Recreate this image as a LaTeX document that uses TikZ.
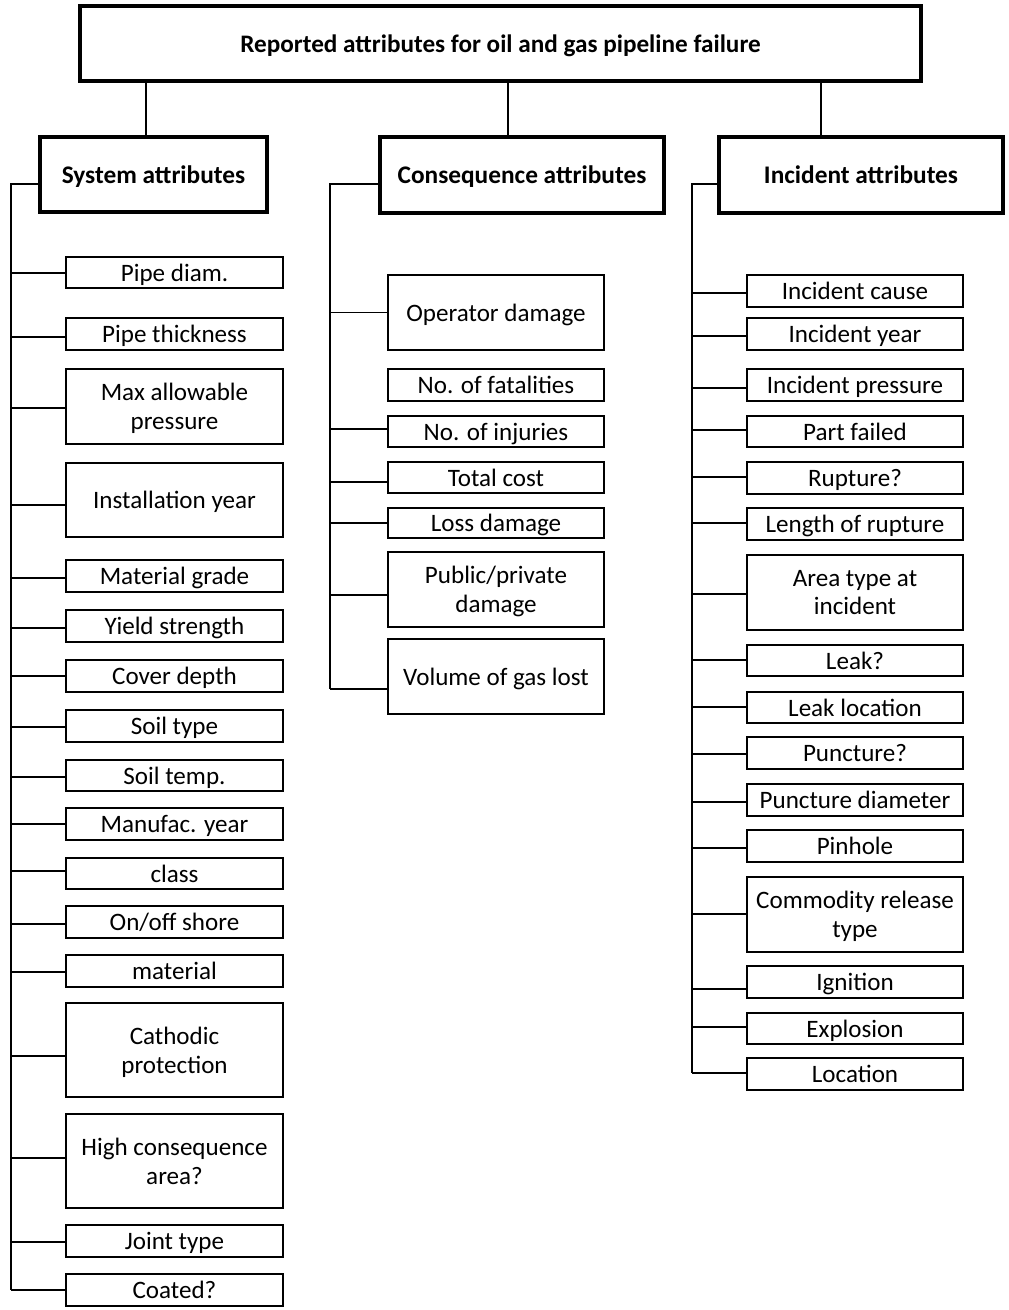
\documentclass[tikz,border=0pt]{standalone}
\usepackage{fontspec}
\setmainfont{Carlito}
\usetikzlibrary{calc}

% #1 style, #2 name, #3 left, #4 top, #5 right, #6 bottom, #7 text
\newcommand\boxat[7]{%
  \node[#1, minimum width={(#5-#3)*0.75pt}, minimum height={(#6-#4)*0.75pt}]
    (#2) at ({(#3+#5)/2},{(#4+#6)/2}) {#7};}
% #1 node, #2 trunk coordinate, #3 vertical offset of the branch from the node's centre
\newcommand\branch[3]{%
  \draw[link] ($(#1.west)+(0,#3)$) coordinate (tmp) -- (tmp -| #2);}

\begin{document}
\begin{tikzpicture}[
  x=0.75pt, y=-0.75pt,
  leaf/.style={draw, line width=1.1pt, inner sep=0pt, outer sep=0pt, align=center,
    text depth=0pt, font=\fontsize{18.8}{21.5}\selectfont},
  catbox/.style={draw, line width=3pt, inner sep=0pt, outer sep=0pt, align=center,
    text depth=0pt, font=\bfseries\fontsize{19}{22}\selectfont},
  topbox/.style={draw, line width=3pt, inner sep=0pt, outer sep=0pt, align=center,
    text depth=0pt, font=\bfseries\fontsize{18.9}{22}\selectfont},
  link/.style={line width=1.1pt},
]
\useasboundingbox[fill=white] (0,0) rectangle (1008,1310);

% root
\boxat{topbox}{root}{80}{6}{921}{81}{Reported attributes for oil and gas pipeline failure}

% categories
\boxat{catbox}{sys}{40}{137}{267}{212}{System attributes}
\boxat{catbox}{cons}{380}{137}{664}{213}{Consequence attributes}
\boxat{catbox}{inc}{719}{137}{1003}{213}{Incident attributes}

\coordinate (xs) at (146,0);
\coordinate (xc) at (508,0);
\coordinate (xi) at (821,0);
\draw[link] (root.south -| xs) -- (sys.north -| xs);
\draw[link] (root.south -| xc) -- (cons.north -| xc);
\draw[link] (root.south -| xi) -- (inc.north -| xi);

% trunks
\coordinate (sT) at (11,184);   \coordinate (sB) at (11,1290);
\coordinate (cT) at (330,184);  \coordinate (cB) at (330,689);
\coordinate (iT) at (692,184);  \coordinate (iB) at (692,1073);
\draw[link] (sys.west |- sT) -- (sT) -- (sB);
\draw[link] (cons.west |- cT) -- (cT) -- (cB);
\draw[link] (inc.west |- iT) -- (iT) -- (iB);

% system attributes
\boxat{leaf}{s1}{66}{257}{283}{288}{Pipe diam.}
\boxat{leaf}{s2}{66}{318}{283}{350}{Pipe thickness}
\boxat{leaf}{s3}{66}{369}{283}{444}{Max allowable\\pressure}
\boxat{leaf}{s4}{66}{463}{283}{537}{Installation year}
\boxat{leaf}{s5}{66}{560}{283}{592}{Material grade}
\boxat{leaf}{s6}{66}{610}{283}{642}{Yield strength}
\boxat{leaf}{s7}{66}{660}{283}{692}{Cover depth}
\boxat{leaf}{s8}{66}{710}{283}{742}{Soil type}
\boxat{leaf}{s9}{66}{760}{283}{791}{Soil temp.}
\boxat{leaf}{s10}{66}{808}{283}{840}{Manufac. year}
\boxat{leaf}{s11}{66}{858}{283}{889}{class}
\boxat{leaf}{s12}{66}{906}{283}{938}{On/off shore}
\boxat{leaf}{s13}{66}{955}{283}{987}{material}
\boxat{leaf}{s14}{66}{1003}{283}{1097}{Cathodic\\protection}
\boxat{leaf}{s15}{66}{1114}{283}{1208}{High consequence\\area?}
\boxat{leaf}{s16}{66}{1225}{283}{1257}{Joint type}
\boxat{leaf}{s17}{66}{1274}{283}{1306}{Coated?}

\branch{s1}{sT}{0.5}
\branch{s2}{sT}{3}
\branch{s3}{sT}{1.5}
\branch{s4}{sT}{5}
\branch{s5}{sT}{2}
\branch{s6}{sT}{2}
\branch{s7}{sT}{0}
\branch{s8}{sT}{1}
\branch{s9}{sT}{1.5}
\branch{s10}{sT}{0}
\branch{s11}{sT}{-2.5}
\branch{s12}{sT}{2}
\branch{s13}{sT}{1}
\branch{s14}{sT}{6}
\branch{s15}{sT}{-3}
\branch{s16}{sT}{1}
\branch{s17}{sT}{0}

% consequence attributes
\boxat{leaf}{c1}{388}{275}{604}{350}{Operator damage}
\boxat{leaf}{c2}{388}{369}{604}{401}{No. of fatalities}
\boxat{leaf}{c3}{388}{416}{604}{447}{No. of injuries}
\boxat{leaf}{c4}{388}{462}{604}{493}{Total cost}
\boxat{leaf}{c5}{388}{508}{604}{538}{Loss damage}
\boxat{leaf}{c6}{388}{552}{604}{627}{Public/private\\damage}
\boxat{leaf}{c7}{388}{639}{604}{714}{Volume of gas lost}

\branch{c1}{cT}{0}
\branch{c3}{cT}{-2.5}
\branch{c4}{cT}{4.5}
\branch{c5}{cT}{0}
\branch{c6}{cT}{5.5}
\branch{c7}{cT}{12.5}

% incident attributes
\boxat{leaf}{i1}{747}{275}{963}{307}{Incident cause}
\boxat{leaf}{i2}{747}{318}{963}{350}{Incident year}
\boxat{leaf}{i3}{747}{369}{963}{401}{Incident pressure}
\boxat{leaf}{i4}{747}{416}{963}{447}{Part failed}
\boxat{leaf}{i5}{747}{462}{963}{494}{Rupture?}
\boxat{leaf}{i6}{747}{508}{963}{540}{Length of rupture}
\boxat{leaf}{i7}{747}{555}{963}{630}{Area type at\\incident}
\boxat{leaf}{i8}{747}{645}{963}{676}{Leak?}
\boxat{leaf}{i9}{747}{692}{963}{723}{Leak location}
\boxat{leaf}{i10}{747}{737}{963}{769}{Puncture?}
\boxat{leaf}{i11}{747}{784}{963}{816}{Puncture diameter}
\boxat{leaf}{i12}{747}{830}{963}{862}{Pinhole}
\boxat{leaf}{i13}{747}{877}{963}{952}{Commodity release\\type}
\boxat{leaf}{i14}{747}{966}{963}{998}{Ignition}
\boxat{leaf}{i15}{747}{1013}{963}{1044}{Explosion}
\boxat{leaf}{i16}{747}{1058}{963}{1090}{Location}

\branch{i1}{iT}{2}
\branch{i2}{iT}{2}
\branch{i3}{iT}{3}
\branch{i4}{iT}{-1.5}
\branch{i5}{iT}{-1}
\branch{i6}{iT}{-1}
\branch{i7}{iT}{1.5}
\branch{i8}{iT}{-0.5}
\branch{i9}{iT}{-0.5}
\branch{i10}{iT}{1}
\branch{i11}{iT}{2}
\branch{i12}{iT}{2}
\branch{i13}{iT}{-0.5}
\branch{i14}{iT}{7}
\branch{i15}{iT}{-1.5}
\branch{i16}{iT}{-1}
\end{tikzpicture}
\end{document}
